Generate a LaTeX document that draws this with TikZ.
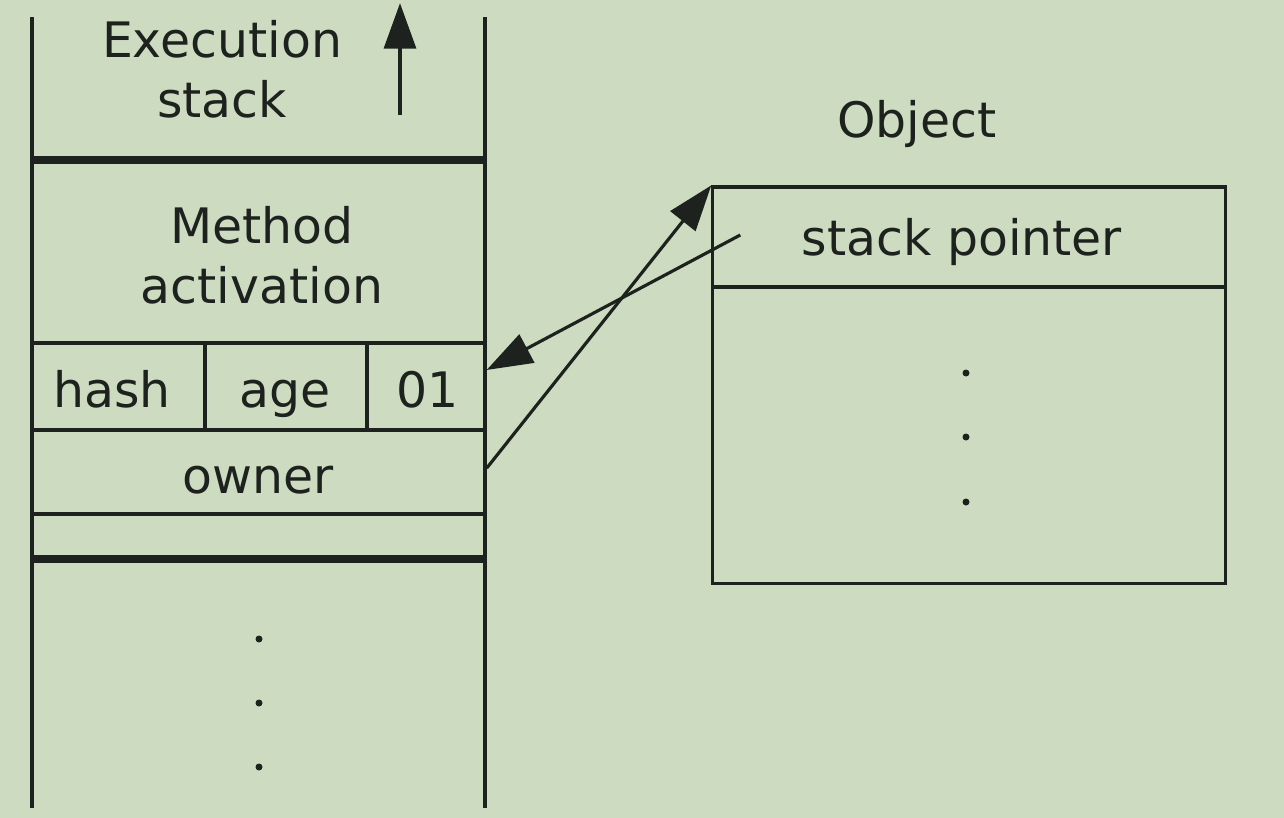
\documentclass[tikz,border=0pt]{standalone}
\usepackage{fontspec}
\setmainfont{DejaVu Sans}
\usepackage{xcolor}
\usetikzlibrary{arrows.meta}

\definecolor{bgcolor}{RGB}{205,220,193}
\definecolor{ink}{RGB}{30,34,30}
\newcommand{\diagfont}{\fontsize{13.9}{16.8}\selectfont}

\begin{document}
\begin{tikzpicture}[x=0.01cm, y=-0.01cm, line width=0.9pt, draw=ink,
    every node/.style={font=\diagfont, text=ink, inner sep=0pt},
    txt/.style={anchor=base, align=center},
    cell/.style={draw=ink, line width=0.9pt, inner sep=0pt},
    wall/.style={line width=1.2pt},
    bound/.style={line width=2pt},
    bigarrow/.style={-{Triangle[length=13pt, width=9pt]}, line width=0.9pt},
    dot/.style={fill=ink, draw=none}]
    % background and size
    \fill[bgcolor] (0,0) rectangle (1284,818);
    \useasboundingbox (0,0) rectangle (1284,818);

    % execution stack
    \draw[wall] (32,17) -- (32,808);
    \draw[wall] (485,17) -- (485,808);
    \draw[bound] (32,160) -- (485,160);
    \draw[bound] (32,559) -- (485,559);
    \node[txt] (stacklabel) at (222,117) {Execution\\stack};
    \coordinate (growtail) at (400,115);
    \coordinate (growtip) at (400,3);
    \draw[bigarrow, line width=1.3pt] (growtail) -- (growtip);
    \node[txt] (method) at (262,303) {Method\\activation};

    % lock record cells
    \node[cell, minimum width=1.73cm, minimum height=0.87cm] (hash) at (118.5,386.5) {};
    \node[cell, minimum width=1.62cm, minimum height=0.87cm] (age) at (286,386.5) {};
    \node[cell, minimum width=1.18cm, minimum height=0.87cm] (flag) at (426,386.5) {};
    \node[cell, minimum width=4.53cm, minimum height=0.84cm] (owner) at (258.5,472) {};
    \node[cell, minimum width=4.53cm, minimum height=0.45cm] (spare) at (258.5,536.5) {};
    \node[txt] at (112,407) {hash};
    \node[txt] at (285,407) {age};
    \node[txt] at (428,407) {01};
    \node[txt] at (258,493) {owner};
    \foreach \y in {639,703,767}
        \fill[dot] (259,\y) circle (3.5);

    % object
    \node[txt] (objlabel) at (917,137) {Object};
    \node[cell, minimum width=5.12cm, minimum height=1.00cm] (objhead) at (969,237) {};
    \node[cell, minimum width=5.12cm, minimum height=2.96cm] (objbody) at (969,435) {};
    \node[txt] at (962,255) {stack pointer};
    \foreach \y in {373,437,502}
        \fill[dot] (966,\y) circle (3.5);

    % pointers
    \draw[bigarrow] ([yshift=1.1pt]owner.east) -- (objhead.north west);
    \draw[bigarrow] ([xshift=0.29cm, yshift=0.02cm]objhead.west) -- ([yshift=0.165cm]flag.east);
\end{tikzpicture}
\end{document}
